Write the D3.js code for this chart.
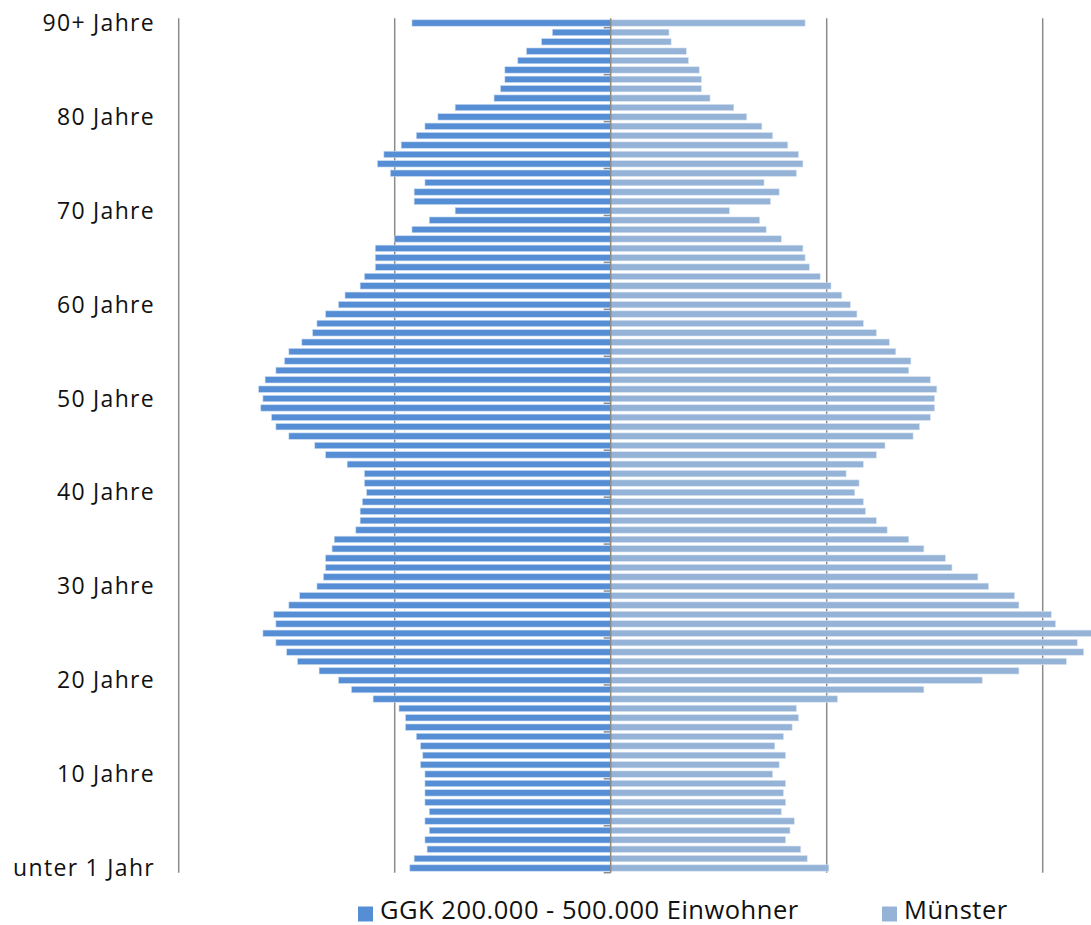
<!DOCTYPE html>
<html>
<head>
<meta charset="utf-8">
<script src="https://cdn.jsdelivr.net/npm/d3@7"></script>
<style>
  body { margin: 0; background: #fff; }
  #graphicContainer text { font-family: "Open Sans", "Noto Sans", sans-serif; fill: #111; }
</style>
</head>
<body>
<div id="graphicContainer"></div>
<script>

// ages 0 .. 90+ (index = age)
const ages = d3.range(0, 91)

// share of population per age year, in percent
const ggk = [
  0.93, 0.91, 0.85, 0.86, 0.84, 0.86, 0.84, 0.86, 0.86, 0.86,
  0.86, 0.88, 0.87, 0.88, 0.90, 0.95, 0.95, 0.98, 1.10, 1.20,
  1.26, 1.35, 1.45, 1.50, 1.55, 1.61, 1.55, 1.56, 1.49, 1.44,
  1.36, 1.33, 1.32, 1.32, 1.29, 1.28, 1.18, 1.16, 1.16, 1.15,
  1.13, 1.14, 1.14, 1.22, 1.32, 1.37, 1.49, 1.55, 1.57, 1.62,
  1.61, 1.63, 1.60, 1.55, 1.51, 1.49, 1.43, 1.38, 1.36, 1.32,
  1.26, 1.23, 1.16, 1.14, 1.09, 1.09, 1.09, 1.00, 0.92, 0.84,
  0.72, 0.91, 0.91, 0.86, 1.02, 1.08, 1.05, 0.97, 0.90, 0.86,
  0.80, 0.72, 0.54, 0.51, 0.49, 0.49, 0.43, 0.39, 0.32, 0.27,
  0.92
]

const muenster = [
  1.01, 0.91, 0.88, 0.81, 0.83, 0.85, 0.79, 0.81, 0.80, 0.81,
  0.75, 0.78, 0.81, 0.76, 0.80, 0.84, 0.87, 0.86, 1.05, 1.45,
  1.72, 1.89, 2.11, 2.19, 2.16, 2.24, 2.06, 2.04, 1.89, 1.87,
  1.75, 1.70, 1.58, 1.55, 1.45, 1.38, 1.28, 1.23, 1.18, 1.17,
  1.13, 1.15, 1.09, 1.17, 1.23, 1.27, 1.40, 1.43, 1.48, 1.50,
  1.50, 1.51, 1.48, 1.38, 1.39, 1.32, 1.29, 1.23, 1.17, 1.14,
  1.11, 1.07, 1.02, 0.97, 0.92, 0.90, 0.89, 0.79, 0.72, 0.69,
  0.55, 0.74, 0.78, 0.71, 0.86, 0.89, 0.87, 0.82, 0.75, 0.70,
  0.63, 0.57, 0.46, 0.42, 0.42, 0.41, 0.36, 0.35, 0.28, 0.27,
  0.90
]

const labelledAges = [0, 10, 20, 30, 40, 50, 60, 70, 80, 90]
const seriesNames = ["GGK 200.000 - 500.000 Einwohner", "Münster"]
const seriesColors = ["#558ED5", "#95B3D7"]
const gridValues = [-2, -1, 1, 2]

const ageLabel = (a) => a === 0 ? "unter 1 Jahr" : a === 90 ? "90+ Jahre" : `${a} Jahre`

const width = 1091
const height = 925

const svg = d3.select("#graphicContainer").append("svg")
  .attr("width", width)
  .attr("height", height)

const x = d3.scaleLinear()
  .domain([-2, 2])
  .range([178.7, 1042.7])

const y = d3.scaleBand()
  .domain(ages.slice().reverse())
  .range([18.3, 872.7])
  .paddingInner(0.32)
  .paddingOuter(0.16)

const step = y.step()

// gridlines
svg.append("g")
  .selectAll("line")
  .data(gridValues)
  .enter()
  .append("line")
  .attr("x1", d => x(d))
  .attr("x2", d => x(d))
  .attr("y1", y.range()[0])
  .attr("y2", y.range()[1])
  .attr("stroke", "#8c8c8c")
  .attr("stroke-width", 1.5)

const rows = ages.map(a => ({ age: a, left: ggk[a], right: muenster[a] }))

// GGK bars, to the left
svg.append("g")
  .selectAll("rect")
  .data(rows)
  .enter()
  .append("rect")
  .attr("x", d => x(-d.left))
  .attr("y", d => y(d.age))
  .attr("width", d => x(0) - x(-d.left))
  .attr("height", y.bandwidth())
  .attr("fill", seriesColors[0])
  .attr("stroke", "#c9daf0")
  .attr("stroke-width", 0.6)

// Münster bars, to the right
svg.append("g")
  .selectAll("rect")
  .data(rows)
  .enter()
  .append("rect")
  .attr("x", x(0))
  .attr("y", d => y(d.age))
  .attr("width", d => x(d.right) - x(0))
  .attr("height", y.bandwidth())
  .attr("fill", seriesColors[1])
  .attr("stroke", "#dbe5f1")
  .attr("stroke-width", 0.6)

// centre axis with tick marks every 5 years
const axisG = svg.append("g")

axisG.append("line")
  .attr("x1", x(0))
  .attr("x2", x(0))
  .attr("y1", y.range()[0])
  .attr("y2", y.range()[1])
  .attr("stroke", "#8c8c8c")
  .attr("stroke-width", 1.5)

axisG.selectAll(".tick")
  .data(ages.filter(a => a % 5 === 0))
  .enter()
  .append("line")
  .attr("class", "tick")
  .attr("x1", x(0) - 7)
  .attr("x2", x(0))
  .attr("y1", d => y(d) + y.bandwidth() / 2 + step / 2)
  .attr("y2", d => y(d) + y.bandwidth() / 2 + step / 2)
  .attr("stroke", "#8c8c8c")
  .attr("stroke-width", 1.5)

// age labels
svg.append("g")
  .selectAll("text")
  .data(labelledAges)
  .enter()
  .append("text")
  .attr("x", 155)
  .attr("y", d => y(d) + y.bandwidth() / 2)
  .attr("dy", "0.35em")
  .attr("text-anchor", "end")
  .style("font-size", "23px")
  .style("letter-spacing", "1.3px")
  .text(d => ageLabel(d))

// legend
const legendPos = [358, 882]

const legend = svg.append("g")
  .selectAll("g")
  .data(seriesNames)
  .enter()
  .append("g")
  .attr("transform", (d, i) => `translate(${legendPos[i]}, 918.5)`)

legend.append("rect")
  .attr("x", 0)
  .attr("y", -12)
  .attr("width", 15)
  .attr("height", 15)
  .attr("fill", (d, i) => seriesColors[i])

legend.append("text")
  .attr("x", 22)
  .attr("y", 0)
  .style("font-size", "25.5px")
  .style("letter-spacing", "0.5px")
  .text(d => d)

</script>
</body>
</html>
